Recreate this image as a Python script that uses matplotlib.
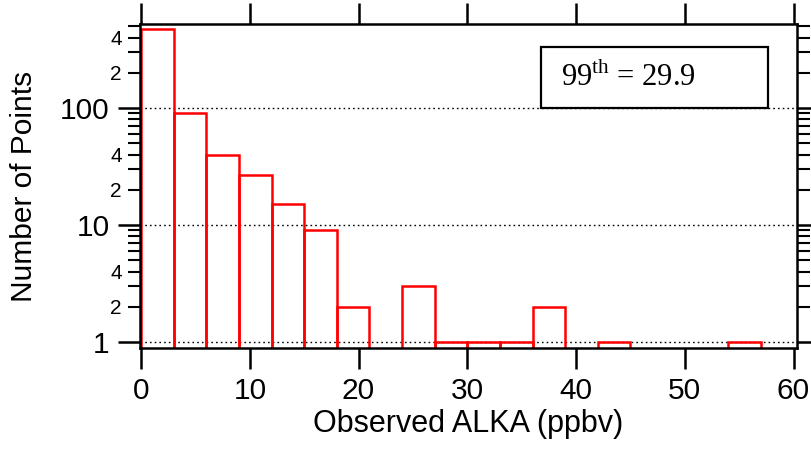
import math
import matplotlib
matplotlib.use("Agg")
import matplotlib.pyplot as plt
from matplotlib.patches import Rectangle
from matplotlib.ticker import FixedLocator, FuncFormatter

bin_left = [0, 3, 6, 9, 12, 15, 18, 24, 27, 30, 33, 36, 42, 54]
counts = [473, 91, 40, 27, 15, 9, 2, 3, 1, 1, 1, 2, 1, 1]
bin_width = 3
x_ticks = [0, 10, 20, 30, 40, 50, 60]
x_label = "Observed ALKA (ppbv)"
y_label = "Number of Points"
annot = r"99$^{\rm th}$ = 29.9"

plt.rcParams['font.family'] = ['Liberation Sans', 'DejaVu Sans']
plt.rcParams['mathtext.fontset'] = 'custom'
plt.rcParams['mathtext.rm'] = 'Liberation Serif'

fig = plt.figure(figsize=(8.12, 4.5), dpi=100)
ax = fig.add_axes([0.1724, 0.2267, 0.981 - 0.1724, 0.9467 - 0.2267])

ax.bar(bin_left, counts, width=bin_width, align='edge', fill=False,
       edgecolor='#ff0000', linewidth=1.8, log=True)

ax.set_yscale('log')
ax.set_ylim(0.89, 522)
ax.set_xlim(-0.1, 60.28)

for v in [1, 10, 100]:
    ax.axhline(v, color='black', linestyle=(0, (1.2, 2.2)), linewidth=1.0, zorder=0)

ax.set_xticks(x_ticks)
ax.set_xticklabels([str(t) for t in x_ticks])
ax.tick_params(axis='x', which='major', direction='out', length=15, width=1.8,
               top=True, bottom=True, labelsize=21.5, pad=6)

ax.yaxis.set_major_locator(FixedLocator([1, 10, 100]))
ax.yaxis.set_major_formatter(FuncFormatter(lambda v, p: f"{int(round(v))}"))
minors = []
for d in [1, 10, 100]:
    for m in range(2, 10):
        if m * d < 522:
            minors.append(m * d)
ax.yaxis.set_minor_locator(FixedLocator(minors))


def minor_fmt(v, p):
    lead = v / (10 ** math.floor(math.log10(v) + 1e-9))
    r = int(round(lead))
    return str(r) if r in (2, 4) else ""


ax.yaxis.set_minor_formatter(FuncFormatter(minor_fmt))
ax.tick_params(axis='y', which='major', direction='out', length=16, width=1.8,
               left=True, right=True, labelsize=21.5, pad=6)
ax.tick_params(axis='y', which='minor', direction='out', length=9, width=1.5,
               left=True, right=True, labelsize=15, pad=4)

for s in ax.spines.values():
    s.set_linewidth(1.8)

ax.set_xlabel(x_label, fontsize=22, labelpad=3)
ax.set_ylabel(y_label, fontsize=21.5, labelpad=16)

ax.add_patch(Rectangle((0.611, 0.741), 0.956 - 0.611, 0.929 - 0.741,
                       transform=ax.transAxes, facecolor='white',
                       edgecolor='black', linewidth=1.6, zorder=5))
ax.text(0.641, 0.836, annot, transform=ax.transAxes, fontsize=22,
        family='Liberation Serif', va='center', ha='left', zorder=6)

fig.savefig("out.png", dpi=100)
